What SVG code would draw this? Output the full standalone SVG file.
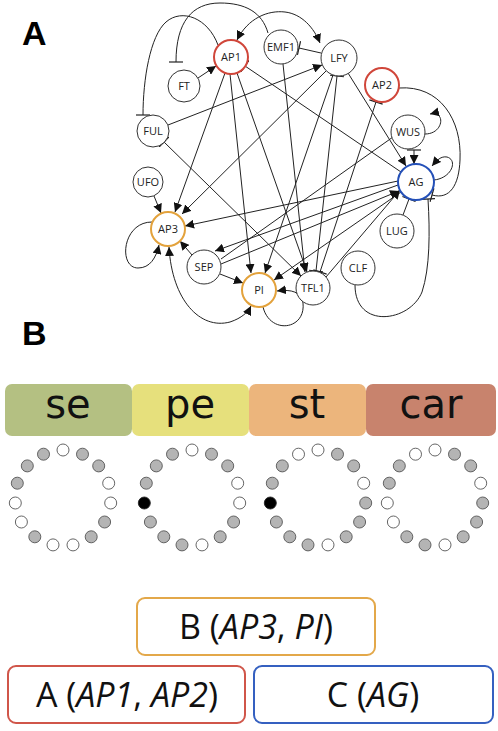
<svg xmlns="http://www.w3.org/2000/svg" width="498" height="731" viewBox="0 0 498 731">
<style>
.n{fill:#fff;stroke:#333;stroke-width:1}
.red{stroke:#d0463a;stroke-width:2}
.org{stroke:#e3a23c;stroke-width:2}
.blu{stroke:#2450b8;stroke-width:2}
.t{font-family:"Open Sans","Liberation Sans",sans-serif;font-size:11px;fill:#222;text-anchor:middle}
.e{fill:none;stroke:#222;stroke-width:1}
.a{marker-end:url(#arr)}
.as{marker-start:url(#arr)}
.b{marker-end:url(#bar)}
.bs{marker-start:url(#bar)}
.pl{font-family:"Liberation Sans",Arial,sans-serif;font-weight:bold;font-size:34px;fill:#000}
.org_t{font-family:"DejaVu Sans",sans-serif;font-size:40px;fill:#111;text-anchor:middle}
.w{fill:#fff;stroke:#555;stroke-width:0.9}
.g{fill:#b4b4b4;stroke:#555;stroke-width:0.9}
.k{fill:#000;stroke:#222;stroke-width:0.9}
.bx{fill:#fff;stroke-width:2}
.bt{font-family:"Open Sans","Liberation Sans",sans-serif;font-size:34px;fill:#111;text-anchor:middle}
</style>
<defs>
<marker id="arr" viewBox="0 0 10 10" refX="10" refY="5" markerWidth="9" markerHeight="9" orient="auto-start-reverse" markerUnits="userSpaceOnUse"><path d="M0,0 L10,5 L0,10 z" fill="#111"/></marker>
<marker id="bar" viewBox="-1 -7 2 14" refX="0" refY="0" markerWidth="2" markerHeight="14" orient="auto" markerUnits="userSpaceOnUse"><path d="M0,-7 L0,7" stroke="#222" stroke-width="1.2"/></marker>
</defs>
<rect width="498" height="731" fill="#fff"/>

<text class="pl" x="22" y="45">A</text>
<text class="pl" x="22" y="345">B</text>

<g id="connectors">
<path class="e b" d="M218,45 C208,18 182,8 166,22 C150,36 143,80 143,115"/>
<path class="e b" d="M268,33 C262,12 245,3 220,3 C192,3 176,22 176,62"/>
<path class="e a as" d="M237,40 C248,18 268,10 285,12 C302,14 314,28 320,43"/>
<path class="e bs" d="M299,48 L321,53"/>
<path class="e a" d="M168,125 L322,65"/>
<path class="e a" d="M198,78 L216,66"/>
<path class="e a" d="M154,196 L161,213"/>
<path class="e a" d="M225,73 L175,212"/>
<path class="e a" d="M326,71 L182,214"/>
<path class="e a" d="M230,74 L251,273"/>
<path class="e a" d="M333,75 L265,273"/>
<path class="e a" d="M401,192 L274,280"/>
<path class="e a" d="M398,181 L185,226"/>
<path class="e a" d="M398,185 L215,251"/>
<path class="e a" d="M221,264 L399,191"/>
<path class="e a" d="M192,255 L180,241"/>
<path class="e a" d="M220,274 L243,283"/>
<path class="e a" d="M283,64 L305,272"/>
<path class="e bs a" d="M164,142 L301,276"/>
<path class="e a" d="M237,73 L307,272"/>
<path class="e bs b" d="M337,76 L316,271"/>
<path class="e bs b" d="M376,102 L320,272"/>
<path class="e bs" d="M245,66 L401,172"/>
<path class="e a" d="M348,73 L406,166"/>
<path class="e a" d="M326,277 L400,190"/>
<path class="e" d="M221,259 L393,137"/>
<path class="e bs a" d="M414,150 L414,164"/>
<path class="e a" d="M425,134 C444,134 446,110 430,114"/>
<path class="e a" d="M434,180 C452,178 458,160 447,157 C441,156 437,160 432,166"/>
<path class="e b" d="M399,88 C440,85 462,120 460,160 C459,185 450,200 432,195"/>
<path class="e b" d="M403,215 L409,199"/>
<path class="e b" d="M355,285 C355,330 410,322 422,292 C430,268 430,232 428,199"/>
<path class="e a" d="M152,222 C122,222 118,268 138,268 C150,268 156,258 159,245"/>
<path class="e a as" d="M169,247 C172,300 200,330 230,322 C242,318 248,312 251,306"/>
<path class="e a" d="M263,307 C270,335 306,330 303,303 C301,292 292,289 277,291"/>
</g>

<g id="n-AP1"><circle class="n red" cx="231" cy="57" r="17"/><text class="t" x="231" y="61">AP1</text></g>
<g id="n-EMF1"><circle class="n" cx="281" cy="47" r="17"/><text class="t" x="281" y="51">EMF1</text></g>
<g id="n-LFY"><circle class="n" cx="339" cy="58" r="18"/><text class="t" x="339" y="62">LFY</text></g>
<g id="n-AP2"><circle class="n red" cx="382" cy="85" r="17"/><text class="t" x="382" y="89">AP2</text></g>
<g id="n-FT"><circle class="n" cx="184" cy="86" r="16"/><text class="t" x="184" y="90">FT</text></g>
<g id="n-FUL"><circle class="n" cx="153" cy="131" r="16"/><text class="t" x="153" y="135">FUL</text></g>
<g id="n-WUS"><circle class="n" cx="408" cy="132" r="17"/><text class="t" x="408" y="136">WUS</text></g>
<g id="n-UFO"><circle class="n" cx="148" cy="182" r="15"/><text class="t" x="148" y="186">UFO</text></g>
<g id="n-AG"><circle class="n blu" cx="416" cy="182" r="18"/><text class="t" x="416" y="186">AG</text></g>
<g id="n-AP3"><circle class="n org" cx="168" cy="229" r="17"/><text class="t" x="168" y="233">AP3</text></g>
<g id="n-LUG"><circle class="n" cx="397" cy="231" r="17"/><text class="t" x="397" y="235">LUG</text></g>
<g id="n-SEP"><circle class="n" cx="204" cy="267" r="17"/><text class="t" x="204" y="271">SEP</text></g>
<g id="n-CLF"><circle class="n" cx="358" cy="268" r="17"/><text class="t" x="358" y="272">CLF</text></g>
<g id="n-PI"><circle class="n org" cx="259" cy="290" r="17"/><text class="t" x="259" y="294">PI</text></g>
<g id="n-TFL1"><circle class="n" cx="313" cy="288" r="17"/><text class="t" x="313" y="292">TFL1</text></g>

<g id="organs">
<rect x="5" y="384" width="127" height="52" rx="7" fill="#b4c082"/>
<rect x="132" y="384" width="117" height="52" rx="7" fill="#e6e07c"/>
<rect x="249" y="384" width="117" height="52" rx="7" fill="#ecb57c"/>
<rect x="366" y="384" width="130" height="52" rx="7" fill="#c8836d"/>
<text class="org_t" x="68" y="418">se</text>
<text class="org_t" x="190" y="418">pe</text>
<text class="org_t" x="307" y="418">st</text>
<text class="org_t" x="431" y="418">car</text>
</g>

<g id="ring-se" transform="translate(63,498)">
<circle class="w" cx="0" cy="-48" r="6"/><circle class="g" cx="19.5" cy="-43.8" r="6"/><circle class="g" cx="35.7" cy="-32.1" r="6"/><circle class="w" cx="45.7" cy="-14.8" r="6"/><circle class="w" cx="47.7" cy="5" r="6"/><circle class="g" cx="41.6" cy="24" r="6"/><circle class="g" cx="28.2" cy="38.8" r="6"/><circle class="w" cx="10" cy="46.9" r="6"/><circle class="w" cx="-10" cy="46.9" r="6"/><circle class="g" cx="-28.2" cy="38.8" r="6"/><circle class="w" cx="-41.6" cy="24" r="6"/><circle class="w" cx="-47.7" cy="5" r="6"/><circle class="g" cx="-45.7" cy="-14.8" r="6"/><circle class="g" cx="-35.7" cy="-32.1" r="6"/><circle class="g" cx="-19.5" cy="-43.8" r="6"/>
</g>
<g id="ring-pe" transform="translate(192,498)">
<circle class="w" cx="0" cy="-48" r="6"/><circle class="g" cx="19.5" cy="-43.8" r="6"/><circle class="g" cx="35.7" cy="-32.1" r="6"/><circle class="w" cx="45.7" cy="-14.8" r="6"/><circle class="w" cx="47.7" cy="5" r="6"/><circle class="g" cx="41.6" cy="24" r="6"/><circle class="g" cx="28.2" cy="38.8" r="6"/><circle class="w" cx="10" cy="46.9" r="6"/><circle class="g" cx="-10" cy="46.9" r="6"/><circle class="g" cx="-28.2" cy="38.8" r="6"/><circle class="g" cx="-41.6" cy="24" r="6"/><circle class="k" cx="-47.7" cy="5" r="6"/><circle class="g" cx="-45.7" cy="-14.8" r="6"/><circle class="g" cx="-35.7" cy="-32.1" r="6"/><circle class="g" cx="-19.5" cy="-43.8" r="6"/>
</g>
<g id="ring-st" transform="translate(318,498)">
<circle class="w" cx="0" cy="-48" r="6"/><circle class="g" cx="19.5" cy="-43.8" r="6"/><circle class="g" cx="35.7" cy="-32.1" r="6"/><circle class="w" cx="45.7" cy="-14.8" r="6"/><circle class="g" cx="47.7" cy="5" r="6"/><circle class="g" cx="41.6" cy="24" r="6"/><circle class="g" cx="28.2" cy="38.8" r="6"/><circle class="w" cx="10" cy="46.9" r="6"/><circle class="g" cx="-10" cy="46.9" r="6"/><circle class="g" cx="-28.2" cy="38.8" r="6"/><circle class="g" cx="-41.6" cy="24" r="6"/><circle class="k" cx="-47.7" cy="5" r="6"/><circle class="g" cx="-45.7" cy="-14.8" r="6"/><circle class="g" cx="-35.7" cy="-32.1" r="6"/><circle class="w" cx="-19.5" cy="-43.8" r="6"/>
</g>
<g id="ring-car" transform="translate(435,498)">
<circle class="w" cx="0" cy="-48" r="6"/><circle class="g" cx="19.5" cy="-43.8" r="6"/><circle class="g" cx="35.7" cy="-32.1" r="6"/><circle class="w" cx="45.7" cy="-14.8" r="6"/><circle class="g" cx="47.7" cy="5" r="6"/><circle class="g" cx="41.6" cy="24" r="6"/><circle class="g" cx="28.2" cy="38.8" r="6"/><circle class="w" cx="10" cy="46.9" r="6"/><circle class="g" cx="-10" cy="46.9" r="6"/><circle class="g" cx="-28.2" cy="38.8" r="6"/><circle class="w" cx="-41.6" cy="24" r="6"/><circle class="w" cx="-47.7" cy="5" r="6"/><circle class="g" cx="-45.7" cy="-14.8" r="6"/><circle class="g" cx="-35.7" cy="-32.1" r="6"/><circle class="w" cx="-19.5" cy="-43.8" r="6"/>
</g>

<g id="box-B"><rect class="bx" x="137" y="598" width="238" height="57" rx="8" stroke="#e3a84a"/><text class="bt" x="256" y="639">B (<tspan font-style="italic">AP3</tspan>, <tspan font-style="italic">PI</tspan>)</text></g>
<g id="box-A"><rect class="bx" x="8" y="666" width="237" height="57" rx="8" stroke="#d0564a"/><text class="bt" x="127" y="707">A (<tspan font-style="italic">AP1</tspan>, <tspan font-style="italic">AP2</tspan>)</text></g>
<g id="box-C"><rect class="bx" x="254" y="666" width="239" height="57" rx="8" stroke="#3560c0"/><text class="bt" x="373" y="707">C (<tspan font-style="italic">AG</tspan>)</text></g>
</svg>
